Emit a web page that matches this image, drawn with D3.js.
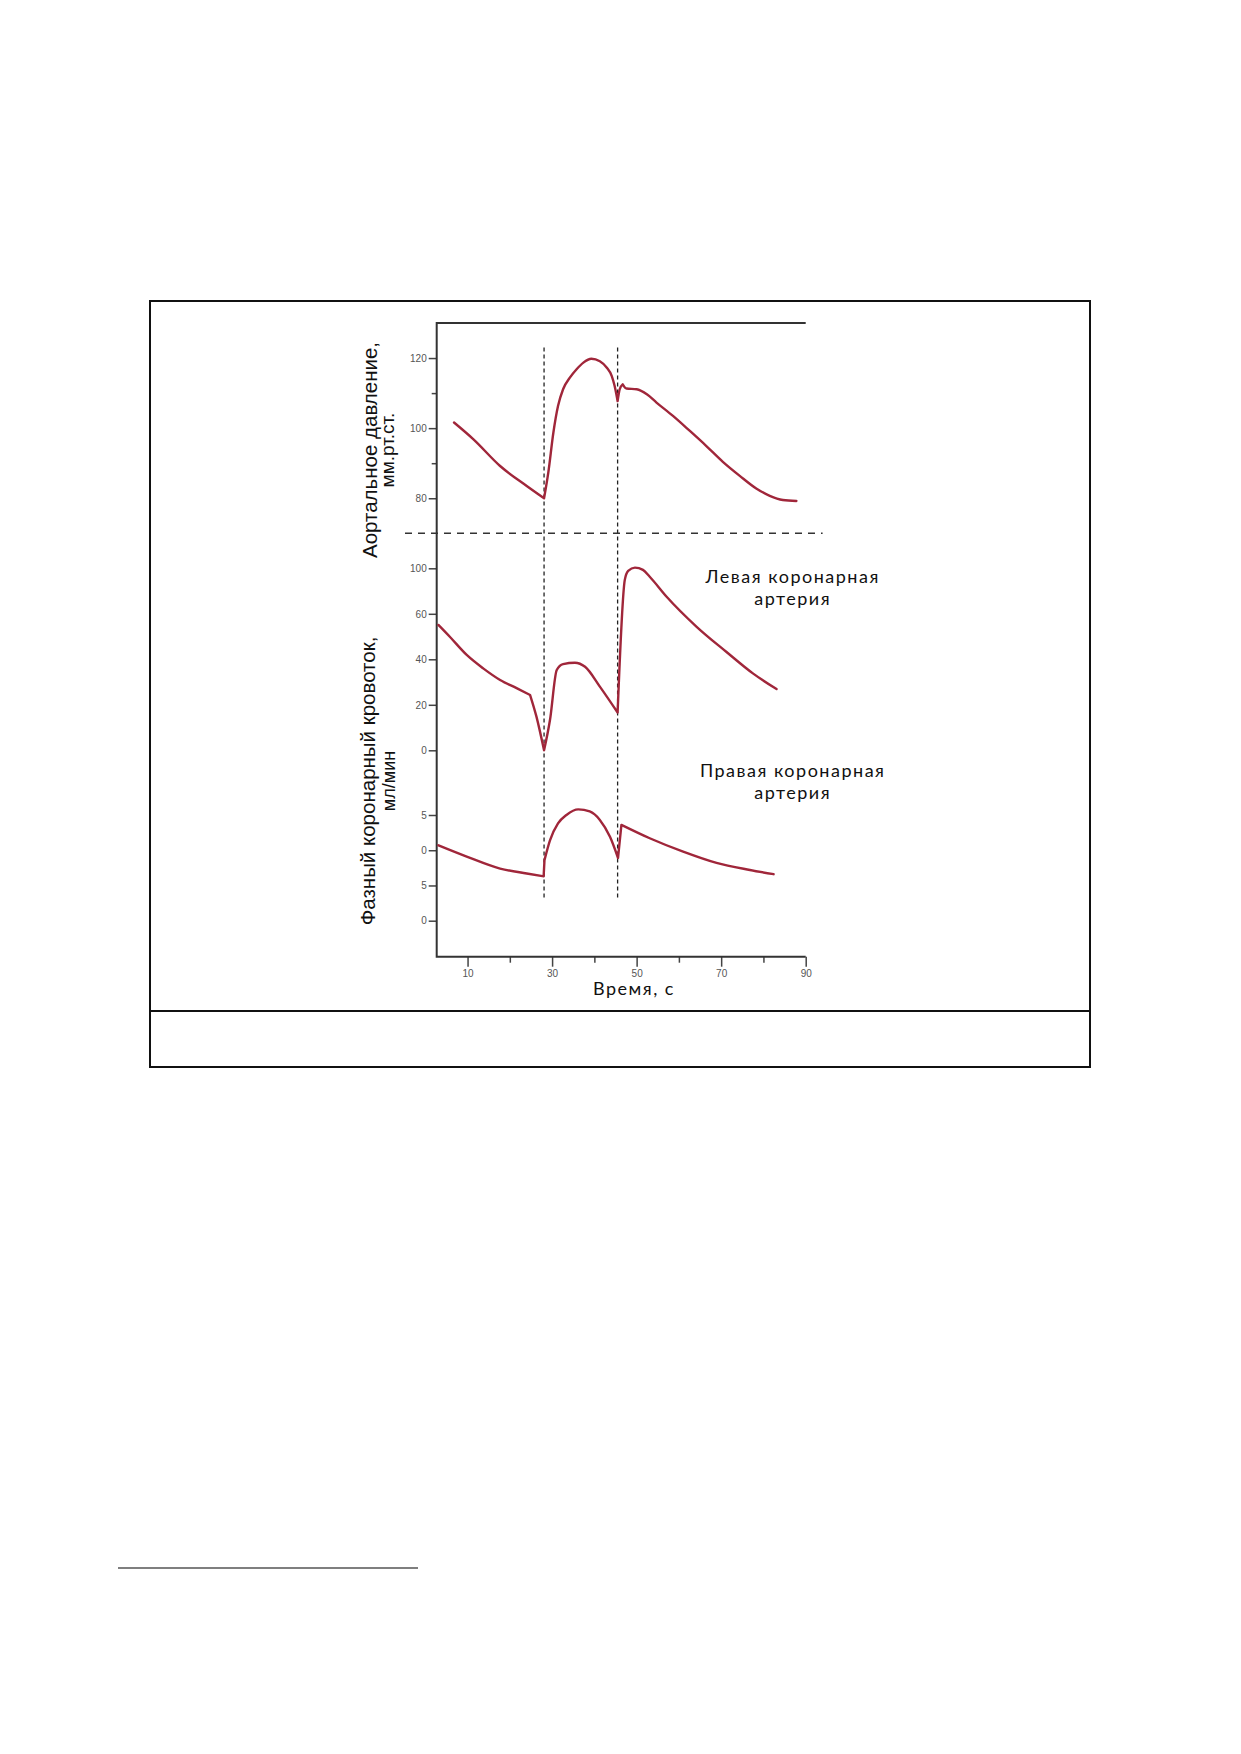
<!DOCTYPE html>
<html>
<head>
<meta charset="utf-8">
<script src="https://cdn.jsdelivr.net/npm/d3@7/dist/d3.min.js"></script>
<style>
    body {
        margin: 0;
        background: #fff;
    }
    .tick text {
        font-family: "Liberation Sans", Arial, sans-serif;
        font-size: 10px;
        fill: #555;
    }
    .tick line {
        stroke: #444;
        stroke-width: 1.5;
    }
    .title {
        font-family: "Liberation Sans", Arial, sans-serif;
        fill: #111;
    }
    .note {
        font-family: Lato, "Open Sans", sans-serif;
        fill: #111;
        letter-spacing: 1.5px;
    }
</style>
</head>
<body>
<svg id="page" width="1241" height="1754"></svg>
<script>
    // time, s
    let aortaX = [6.8, 11.4, 17.7, 24.0, 28.1, 29.1, 30.3, 31.4, 32.6, 34.2, 35.8, 37.4, 39.3, 41.3, 42.9, 44.1, 44.8, 45.5,
        46.0, 46.7, 47.6, 50.0, 52.5, 54.7, 58.6, 62.6, 66.5, 70.4, 74.4, 78.3, 81.5, 84.6, 87.8];
    // aortic pressure, mm Hg
    let aortaY = [101.6, 96.8, 89.2, 83.5, 80, 87.3, 98.7, 106.3, 111.1, 114.4, 116.8, 118.7, 119.8, 119.1, 117.3, 114.9, 112.0, 107.7,
        111.1, 112.5, 111.3, 111.1, 109.6, 107.3, 103.5, 99.2, 94.9, 90.4, 86.4, 82.8, 80.7, 79.5, 79.2];
    let aortaCorners = [28.1, 45.5, 46.7];

    // left coronary artery (values in axis position units)
    let leftX = [3.1, 5.8, 9.8, 13.7, 17.7, 21.6, 24.8, 26.3, 28.1, 29.5, 31.1, 32.6, 35.4, 37.8, 41.3, 45.5,
        47.2, 48.0, 49.6, 51.5, 53.1, 57.1, 64.2, 71.2, 77.5, 83.1];
    let leftY = [55.1, 49.9, 41.9, 36.0, 30.9, 27.3, 24.3, 14.8, 0, 13.3, 35.3, 37.9, 38.5, 36.7, 28.0, 16.6,
        74.9, 78.9, 80.3, 79.3, 76.3, 67.5, 54.3, 43.3, 33.8, 26.9];
    let leftCorners = [24.8, 28.1, 45.5];

    // right coronary artery (values in axis position units)
    let rightX = [3.1, 9.8, 17.7, 24.0, 28.0, 28.2, 29.5, 31.4, 33.4, 36.2, 38.9, 41.3, 43.7, 45.6,
        46.4, 53.1, 61.0, 68.9, 76.8, 82.4];
    let rightY = [10.7, 9.1, 7.4, 6.7, 6.3, 8.6, 11.4, 13.8, 15.0, 15.8, 15.5, 14.3, 11.9, 8.9,
        13.6, 11.7, 9.8, 8.2, 7.2, 6.6];
    let rightCorners = [28.0, 28.2, 45.6, 46.4];

    // ticks
    let xTicks = [10, 30, 50, 70, 90];
    let xMinorTicks = [20, 40, 60, 80];
    let aortaTicks = [80, 100, 120];
    let aortaMinorTicks = [90, 110];
    let leftTicks = [0, 20, 40, 60, 80];
    let leftTickLabels = ["0", "20", "40", "60", "100"];
    let rightTicks = [0, 5, 10, 15];
    let rightTickLabels = ["0", "5", "0", "5"];

    let phaseLines = [28.1, 45.5];

    const svg = d3.select("#page");
    const curveColor = "#a0263a";

    // outer frame of the figure box
    svg.append("rect")
        .attr("x", 150).attr("y", 301)
        .attr("width", 940).attr("height", 766)
        .attr("fill", "none")
        .attr("stroke", "#111")
        .attr("stroke-width", 2);
    svg.append("line")
        .attr("x1", 150).attr("x2", 1090)
        .attr("y1", 1011).attr("y2", 1011)
        .attr("stroke", "#111")
        .attr("stroke-width", 2);

    // footnote rule
    svg.append("line")
        .attr("x1", 118).attr("x2", 418)
        .attr("y1", 1568).attr("y2", 1568)
        .attr("stroke", "#555")
        .attr("stroke-width", 1.5);

    let x = d3.scaleLinear().domain([2.7, 90]).range([436.7, 805.7]);
    let yAorta = d3.scaleLinear().domain([70, 130]).range([533.3, 323]);
    let yLeft = d3.scaleLinear().domain([0, 80]).range([750.3, 568.3]);
    let yRight = d3.scaleLinear().domain([0, 15]).range([920.7, 815]);

    // y axes (ticks only, the spine is drawn once below)
    function yAxis(scale, ticks, labels, size) {
        let ax = d3.axisLeft(scale).tickValues(ticks).tickSize(size).tickPadding(2);
        if (labels) ax.tickFormat((d, i) => labels[i]);
        else ax.tickFormat("");
        let g = svg.append("g").attr("transform", "translate(" + x.range()[0] + ",0)").call(ax);
        g.select(".domain").remove();
        return g;
    }
    yAxis(yAorta, aortaTicks, aortaTicks.map(String), 8);
    yAxis(yAorta, aortaMinorTicks, null, 5);
    yAxis(yLeft, leftTicks, leftTickLabels, 8);
    yAxis(yRight, rightTicks, rightTickLabels, 8);

    let xAxisBottom = 956.7;
    let xg = svg.append("g")
        .attr("transform", "translate(0," + xAxisBottom + ")")
        .call(d3.axisBottom(x).tickValues(xTicks).tickSize(10).tickPadding(3).tickFormat(d3.format("d")));
    xg.select(".domain").remove();
    let xgm = svg.append("g")
        .attr("transform", "translate(0," + xAxisBottom + ")")
        .call(d3.axisBottom(x).tickValues(xMinorTicks).tickSize(6).tickFormat(""));
    xgm.select(".domain").remove();

    // spines
    svg.append("path")
        .attr("d", "M" + x.range()[1] + "," + yAorta.range()[1] +
            "H" + x.range()[0] + "V" + xAxisBottom + "H" + x.range()[1])
        .attr("fill", "none")
        .attr("stroke", "#333")
        .attr("stroke-width", 2);

    // phase separators
    svg.selectAll(".phase").data(phaseLines).enter().append("line")
        .attr("class", "phase")
        .attr("x1", d => x(d)).attr("x2", d => x(d))
        .attr("y1", yAorta(123)).attr("y2", yRight(3.1))
        .attr("stroke", "#222")
        .attr("stroke-width", 1.3)
        .attr("stroke-dasharray", "4,3");

    svg.append("line")
        .attr("x1", x(-4.8)).attr("x2", x(94))
        .attr("y1", yAorta(70)).attr("y2", yAorta(70))
        .attr("stroke", "#333")
        .attr("stroke-width", 1.4)
        .attr("stroke-dasharray", "7,6");

    // split a series at its sharp corners, smooth the pieces in between
    function drawSeries(xs, ys, corners, yScale) {
        let pts = xs.map((d, i) => [d, ys[i]]);
        let pieces = [];
        let cur = [];
        pts.forEach(p => {
            cur.push(p);
            if (corners.indexOf(p[0]) >= 0 && cur.length > 1) {
                pieces.push(cur);
                cur = [p];
            }
        });
        if (cur.length > 1) pieces.push(cur);
        let line = d3.line()
            .x(d => x(d[0]))
            .y(d => yScale(d[1]))
            .curve(d3.curveMonotoneX);
        let dstr = pieces.map((p, i) => {
            let s = line(p);
            return i == 0 ? s : "L" + s.slice(1);
        }).join("");
        svg.append("path")
            .attr("d", dstr)
            .attr("fill", "none")
            .attr("stroke", curveColor)
            .attr("stroke-width", 2.4)
            .attr("stroke-linejoin", "round")
            .attr("stroke-linecap", "round");
    }
    drawSeries(aortaX, aortaY, aortaCorners, yAorta);
    drawSeries(leftX, leftY, leftCorners, yLeft);
    drawSeries(rightX, rightY, rightCorners, yRight);

    // axis titles
    function vText(cx, cy, size, txt) {
        svg.append("text")
            .attr("class", "title")
            .attr("transform", "translate(" + cx + "," + cy + ") rotate(-90)")
            .attr("text-anchor", "middle")
            .style("font-size", size + "px")
            .text(txt);
    }
    vText(377, 450, 20.5, "Аортальное давление,");
    vText(394, 450, 19, "мм.рт.ст.");
    vText(375, 781, 20.5, "Фазный коронарный кровоток,");
    vText(395, 781, 18, "мл/мин");

    svg.append("text")
        .attr("class", "note")
        .attr("x", 634).attr("y", 995)
        .attr("text-anchor", "middle")
        .style("font-size", "18px")
        .text("Время, с");

    let notes = [
        ["Левая коронарная", "артерия", 582.7],
        ["Правая коронарная", "артерия", 776.7]
    ];
    notes.forEach(n => {
        svg.append("text")
            .attr("class", "note")
            .attr("text-anchor", "middle")
            .attr("x", 792.7).attr("y", n[2])
            .style("font-size", "18px")
            .text(n[0]);
        svg.append("text")
            .attr("class", "note")
            .attr("text-anchor", "middle")
            .attr("x", 792.7).attr("y", n[2] + 22)
            .style("font-size", "18px")
            .text(n[1]);
    });
</script>
</body>
</html>
